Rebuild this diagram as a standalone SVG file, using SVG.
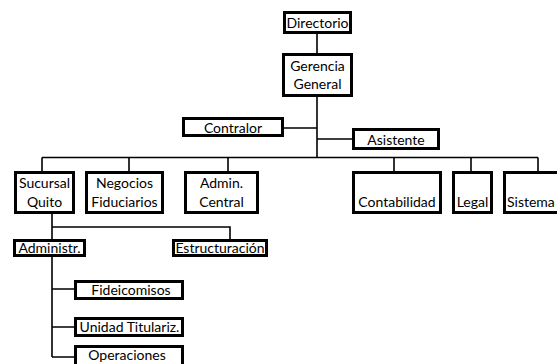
<svg xmlns="http://www.w3.org/2000/svg" width="557" height="364" viewBox="0 0 557 364">
<style>
.b{fill:#fff;stroke:#000;stroke-width:3}
.t{font-family:Lato,"Liberation Sans",sans-serif;font-size:14px;fill:#000;text-anchor:middle}
.c{fill:none;stroke:#000;stroke-width:1.6}
</style>
<rect width="557" height="364" fill="#fff"/>
<g id="connectors">
<path class="c" d="M317 34V53M317 97V157.5M284 128H317M317 139H352M42 157.5H538M42 157.5V171M129 157.5V171M228 157.5V171M394 157.5V171M471 157.5V171M538 157.5V171"/>
<path class="c" d="M52 213V227H230V239M52 227V239M52 257V357M52 289H74M52 327H74M52 357H74"/>
</g>
<g id="directorio"><rect class="b" x="284.5" y="12.5" width="66" height="20"/><text class="t" x="317.5" y="28">Directorio</text></g>
<g id="gerencia"><rect class="b" x="283.5" y="54.5" width="68" height="41"/><text class="t" x="317.5" y="71">Gerencia</text><text class="t" x="317.5" y="89">General</text></g>
<g id="contralor"><rect class="b" x="183.5" y="118.5" width="99" height="17"/><text class="t" x="233" y="132.5">Contralor</text></g>
<g id="asistente"><rect class="b" x="353.5" y="129.5" width="85" height="19"/><text class="t" x="396" y="144.5">Asistente</text></g>
<g id="sucursal"><rect class="b" x="15.5" y="172.5" width="58" height="40"/><text class="t" x="44.5" y="188">Sucursal</text><text class="t" x="44.5" y="207">Quito</text></g>
<g id="negocios"><rect class="b" x="86.5" y="172.5" width="76" height="40"/><text class="t" x="124.5" y="188">Negocios</text><text class="t" x="124.5" y="207">Fiduciarios</text></g>
<g id="admin"><rect class="b" x="185.5" y="172.5" width="72" height="40"/><text class="t" x="221.5" y="188">Admin.</text><text class="t" x="221.5" y="207">Central</text></g>
<g id="contabilidad"><rect class="b" x="353.5" y="172.5" width="87" height="40"/><text class="t" x="397" y="207">Contabilidad</text></g>
<g id="legal"><rect class="b" x="453.5" y="172.5" width="38" height="40"/><text class="t" x="472.5" y="207">Legal</text></g>
<g id="sistema"><rect class="b" x="504.5" y="172.5" width="70" height="40"/><text class="t" x="507" y="207" style="text-anchor:start">Sistema</text></g>
<g id="administr"><rect class="b" x="14.5" y="240.5" width="70" height="15"/><text class="t" x="49.5" y="252.5">Administr.</text></g>
<g id="estructuracion"><rect class="b" x="173.5" y="240.5" width="93" height="15"/><text class="t" x="220" y="252.5">Estructuración</text></g>
<g id="fideicomisos"><rect class="b" x="75.5" y="281.5" width="107" height="17"/><text class="t" x="131" y="295">Fideicomisos</text></g>
<g id="unidad"><rect class="b" x="75.5" y="318.5" width="107" height="17"/><text class="t" x="129.5" y="332">Unidad Titulariz.</text></g>
<g id="operaciones"><rect class="b" x="75.5" y="346.5" width="107" height="20"/><text class="t" x="127" y="360">Operaciones</text></g>
</svg>
